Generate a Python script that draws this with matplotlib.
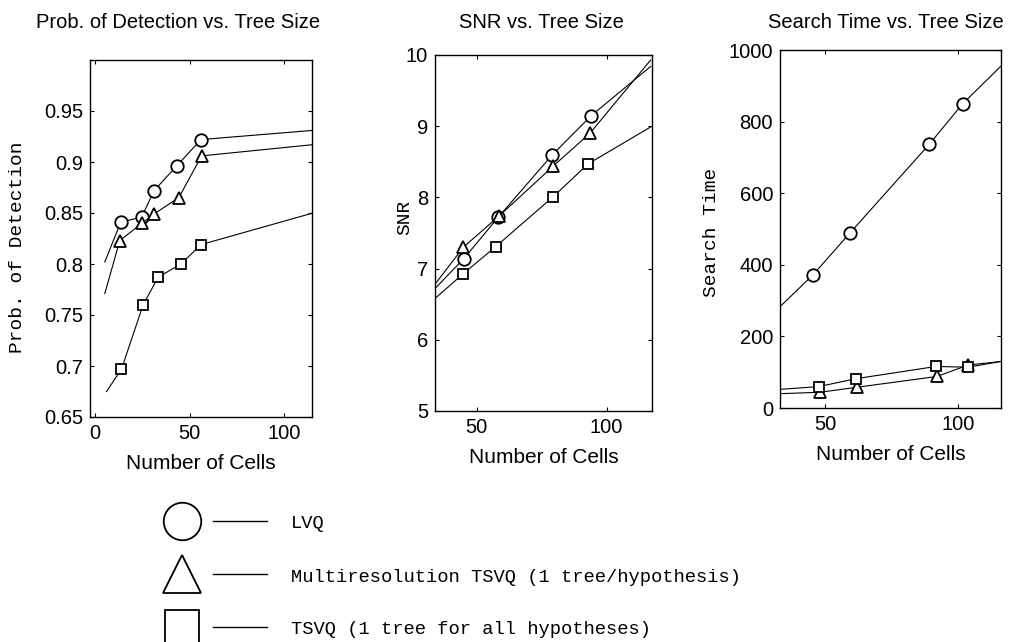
import numpy as np
import matplotlib
matplotlib.use('Agg')
import matplotlib.pyplot as plt
from matplotlib.lines import Line2D

plt.rcParams.update({
    'font.family': ['Liberation Sans', 'DejaVu Sans'],
    'axes.linewidth': 1.0,
    'xtick.direction': 'in',
    'ytick.direction': 'in',
    'xtick.major.size': 3,
    'ytick.major.size': 3,
    'xtick.top': True,
    'ytick.right': True,
})

MONO = ['Liberation Mono', 'DejaVu Sans Mono']

# ---- Prob. of detection (first and last points are the extended line ends)
pd_lvq_x = [5.3, 13.7, 24.7, 31.3, 43.1, 56.0, 115]
pd_lvq_y = [0.802, 0.841, 0.846, 0.872, 0.896, 0.922, 0.931]
pd_mtsvq_x = [5.3, 13.2, 25.0, 31.2, 44.3, 56.3, 115]
pd_mtsvq_y = [0.771, 0.823, 0.840, 0.849, 0.865, 0.906, 0.917]
pd_tsvq_x = [6.2, 14.1, 25.5, 33.4, 45.4, 56.0, 115]
pd_tsvq_y = [0.675, 0.697, 0.760, 0.787, 0.800, 0.819, 0.850]

# ---- SNR
snr_lvq_x = [34, 45.1, 58.3, 79.2, 94.2, 117]
snr_lvq_y = [6.72, 7.14, 7.72, 8.60, 9.15, 9.84]
snr_mtsvq_x = [34, 44.9, 58.7, 79.5, 93.6, 117]
snr_mtsvq_y = [6.78, 7.30, 7.74, 8.44, 8.90, 9.93]
snr_tsvq_x = [34, 44.6, 57.4, 79.5, 92.9, 117]
snr_tsvq_y = [6.58, 6.92, 7.31, 8.01, 8.47, 8.99]

# ---- Search time
st_lvq_x = [33, 45.4, 59.4, 89.1, 101.6, 116]
st_lvq_y = [283, 372, 490, 737, 850, 955]
st_mtsvq_x = [33, 48.1, 61.9, 91.9, 103.7, 116]
st_mtsvq_y = [40, 44, 58, 88, 120, 130]
st_tsvq_x = [33, 47.7, 61.6, 91.6, 103.7, 116]
st_tsvq_y = [52, 60, 82, 116, 114, 130]

series_labels = ['LVQ',
                 'Multiresolution TSVQ (1 tree/hypothesis)',
                 'TSVQ (1 tree for all hypotheses)']
markers = ['o', '^', 's']
msizes = [9, 9, 7.5]

fig = plt.figure(figsize=(10.24, 6.42), dpi=100)
W, H = 1024, 642


def add_axes_px(left, top, right, bottom):
    return fig.add_axes([left / W, 1 - bottom / H, (right - left) / W, (bottom - top) / H])


def draw(ax, xs, ys):
    for x, y, m, ms in zip(xs, ys, markers, msizes):
        ax.plot(x, y, color='black', lw=0.8, marker=m, ms=ms, mfc='white',
                mec='black', mew=1.3, markevery=slice(1, len(x) - 1))


ax1 = add_axes_px(90, 60, 312, 417)
draw(ax1, [pd_lvq_x, pd_mtsvq_x, pd_tsvq_x], [pd_lvq_y, pd_mtsvq_y, pd_tsvq_y])
ax1.set_xlim(-2.5, 114.5)
ax1.set_ylim(0.65, 1.0)
ax1.set_xticks([0, 50, 100])
ax1.set_yticks([0.65, 0.7, 0.75, 0.8, 0.85, 0.9, 0.95])
ax1.set_yticklabels(['0.65', '0.7', '0.75', '0.8', '0.85', '0.9', '0.95'])

ax2 = add_axes_px(435, 55, 652, 411)
draw(ax2, [snr_lvq_x, snr_mtsvq_x, snr_tsvq_x], [snr_lvq_y, snr_mtsvq_y, snr_tsvq_y])
ax2.set_xlim(34, 117.5)
ax2.set_ylim(5, 10)
ax2.set_xticks([50, 100])
ax2.set_yticks([5, 6, 7, 8, 9, 10])

ax3 = add_axes_px(780, 50, 1001, 408)
draw(ax3, [st_lvq_x, st_mtsvq_x, st_tsvq_x], [st_lvq_y, st_mtsvq_y, st_tsvq_y])
ax3.set_xlim(33, 116)
ax3.set_ylim(0, 1000)
ax3.set_xticks([50, 100])
ax3.set_yticks([0, 200, 400, 600, 800, 1000])

for ax in (ax1, ax2, ax3):
    ax.tick_params(labelsize=14.5, pad=5)
    ax.set_xlabel('Number of Cells', fontsize=15, labelpad=8)

# titles and y labels placed like the scan
fig.text(178 / W, 1 - 22 / H, 'Prob. of Detection vs. Tree Size', fontsize=14.5,
         ha='center', va='center')
fig.text(541 / W, 1 - 22 / H, 'SNR vs. Tree Size', fontsize=14.5, ha='center', va='center')
fig.text(886 / W, 1 - 22 / H, 'Search Time vs. Tree Size', fontsize=14.5,
         ha='center', va='center')
fig.text(18 / W, 1 - 247 / H, 'Prob. of Detection', family=MONO, fontsize=14,
         rotation=90, ha='center', va='center')
fig.text(405 / W, 1 - 217 / H, 'SNR', family=MONO, fontsize=14,
         rotation=90, ha='center', va='center')
fig.text(712 / W, 1 - 232 / H, 'Search Time', family=MONO, fontsize=14,
         rotation=90, ha='center', va='center')

# legend drawn in pixel space at the bottom
lax = fig.add_axes([0, 0, 1, 1])
lax.set_xlim(0, W)
lax.set_ylim(H, 0)
lax.axis('off')
leg_y = [521, 574, 627]
leg_ms = [27, 28, 25]
for yy, m, ms, lab in zip(leg_y, markers, leg_ms, series_labels):
    lax.plot([181.5], [yy], marker=m, ms=ms, mfc='white', mec='black', mew=1.3,
             ls='none', clip_on=False)
    lax.add_line(Line2D([213, 267], [yy, yy], color='black', lw=1.0))
    lax.text(291, yy + 3, lab, family=MONO, fontsize=13.5, ha='left', va='center')

fig.savefig('out.png', dpi=100)
